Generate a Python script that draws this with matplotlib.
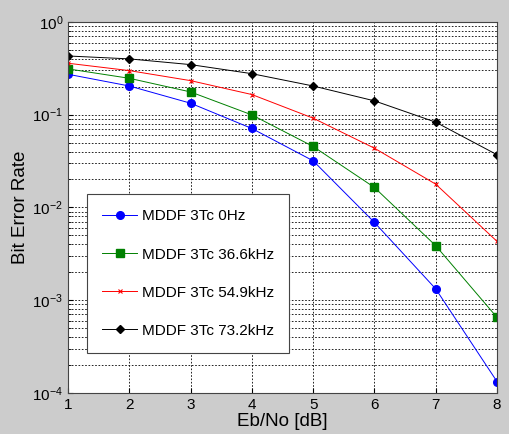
import matplotlib
matplotlib.use("Agg")
import matplotlib.pyplot as plt
import numpy as np

plt.rcParams['font.family'] = ['Liberation Sans', 'DejaVu Sans']

ebno = [1, 2, 3, 4, 5, 6, 7, 8]
ber_0hz = [0.273, 0.204, 0.133, 0.071, 0.0318, 0.00688, 0.00132, 0.000132]
ber_366 = [0.312, 0.247, 0.176, 0.0995, 0.0454, 0.0164, 0.00386, 0.00065]
ber_549 = [0.359, 0.299, 0.233, 0.165, 0.0917, 0.0435, 0.0178, 0.0043]
ber_732 = [0.43, 0.40, 0.347, 0.277, 0.204, 0.141, 0.083, 0.037]
etiquetas = ["MDDF 3Tc 0Hz", "MDDF 3Tc 36.6kHz", "MDDF 3Tc 54.9kHz", "MDDF 3Tc 73.2kHz"]

fig = plt.figure(figsize=(5.1, 4.34), dpi=100, facecolor="#cccccc")
ax = fig.add_axes([0.1333, 0.0951, 0.8412, 0.8542])
ax.set_facecolor("white")

ax.semilogy(ebno, ber_0hz, "-o", color="#0000ff", lw=0.7, ms=5.5, label=etiquetas[0])
ax.semilogy(ebno, ber_366, "-s", color="#008000", mfc="#008000", lw=0.7, ms=5.5, label=etiquetas[1])
ax.semilogy(ebno, ber_549, "-x", color="#ff0000", lw=0.7, ms=3, mew=0.8, label=etiquetas[2])
ax.semilogy(ebno, ber_732, "-D", color="black", lw=0.7, ms=4, label=etiquetas[3])

ax.set_xlim(1, 8)
ax.set_ylim(1e-4, 1)
ax.set_xticks(ebno)
ax.grid(True, which="major", ls=(0, (2, 2)), color="black", lw=0.6)
ax.grid(True, which="minor", axis="y", ls=(0, (2, 2)), color="black", lw=0.6)
ax.tick_params(which="both", direction="in", labelsize=11)
for s in ax.spines.values():
    s.set_color("#444444")

ax.set_xlabel("Eb/No [dB]", fontsize=13.5, labelpad=1)
ax.set_ylabel("Bit Error Rate", fontsize=13.5, labelpad=2)

leg = ax.legend(loc="lower left", bbox_to_anchor=(0.044, 0.107), borderaxespad=0,
                fontsize=11, handlelength=2.3, handletextpad=0.3,
                labelspacing=1.58, borderpad=1.0,
                fancybox=False, edgecolor="#444444", framealpha=1)
leg.get_frame().set_linewidth(0.8)

plt.savefig("out.png", dpi=100, facecolor=fig.get_facecolor())
